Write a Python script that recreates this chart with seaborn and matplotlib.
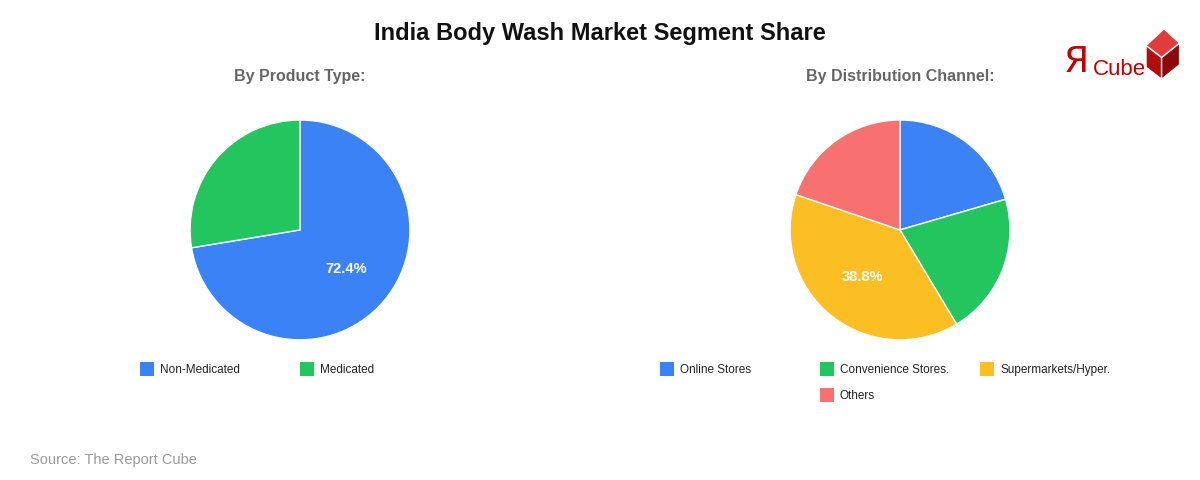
import matplotlib.pyplot as plt
import matplotlib.patches as mpatches
import numpy as np
import seaborn as sns

sns.set_theme(style="white")
plt.rcParams["font.family"] = ["Liberation Sans", "DejaVu Sans"]

product_labels = ["Non-Medicated", "Medicated"]
product_values = [72.4, 27.6]
product_colors = ["#3b82f6", "#22c55e"]

channel_labels = ["Online Stores", "Convenience Stores.", "Supermarkets/Hyper.", "Others"]
channel_values = [20.5, 20.9, 38.8, 19.8]
channel_colors = ["#3b82f6", "#22c55e", "#fbbf24", "#f87171"]

fig = plt.figure(figsize=(12, 4.8), dpi=100)
fig.patch.set_facecolor("white")


def draw_pie(cx, values, colors, title):
    w, h = 0.229, 0.573
    ax = fig.add_axes([cx - w / 2, 0.521 - h / 2, w, h])
    wedges, _ = ax.pie(values, colors=colors, startangle=90, counterclock=False,
                       wedgeprops=dict(edgecolor="white", linewidth=1))
    ax.set_aspect("equal")
    # label only the biggest slice
    i = values.index(max(values))
    wd = wedges[i]
    mid = np.deg2rad((wd.theta1 + wd.theta2) / 2)
    ax.text(0.55 * np.cos(mid), 0.55 * np.sin(mid), f"{values[i]}%", ha="center", va="center",
            color="white", fontsize=10.5, fontweight="bold")
    fig.text(cx, 0.84, title, ha="center", va="center", fontsize=11.5,
             fontweight="bold", color="#666666")
    return ax


draw_pie(0.25, product_values, product_colors, "By Product Type:")
draw_pie(0.75, channel_values, channel_colors, "By Distribution Channel:")


def legend_item(x, y, color, label):
    fig.patches.append(mpatches.Rectangle((x, y - 0.013), 0.0117, 0.029, transform=fig.transFigure,
                                          facecolor=color, edgecolor="none"))
    fig.text(x + 0.0167, y, label, ha="left", va="center", fontsize=8.5, color="#222222")


for (x, y), c, l in zip([(0.117, 0.23), (0.25, 0.23)], product_colors, product_labels):
    legend_item(x, y, c, l)
for (x, y), c, l in zip([(0.55, 0.23), (0.683, 0.23), (0.817, 0.23), (0.683, 0.176)],
                        channel_colors, channel_labels):
    legend_item(x, y, c, l)

fig.text(0.5, 0.93, "India Body Wash Market Segment Share", ha="center", va="center",
         fontsize=17, fontweight="bold", color="#111111")
fig.text(0.025, 0.042, "Source: The Report Cube", ha="left", va="center", fontsize=10.5, color="#999999")

# logo: cube first, text on top
cube_top = mpatches.Polygon([(0.955, 0.905), (0.97, 0.94), (0.983, 0.91), (0.968, 0.88)],
                            closed=True, transform=fig.transFigure, facecolor="#e23b3b")
cube_left = mpatches.Polygon([(0.955, 0.905), (0.968, 0.88), (0.968, 0.835), (0.955, 0.86)],
                             closed=True, transform=fig.transFigure, facecolor="#b00d0d")
cube_right = mpatches.Polygon([(0.968, 0.88), (0.983, 0.91), (0.983, 0.865), (0.968, 0.835)],
                              closed=True, transform=fig.transFigure, facecolor="#8a0a0a")
for p in (cube_top, cube_left, cube_right):
    fig.patches.append(p)
fig.text(0.886, 0.87, "Я", ha="left", va="center", fontsize=26, color="#c00000", family=["DejaVu Sans"])
fig.text(0.911, 0.855, "Cube", ha="left", va="center", fontsize=16, color="#c00000")

fig.savefig("out.png", dpi=100, facecolor="white")
